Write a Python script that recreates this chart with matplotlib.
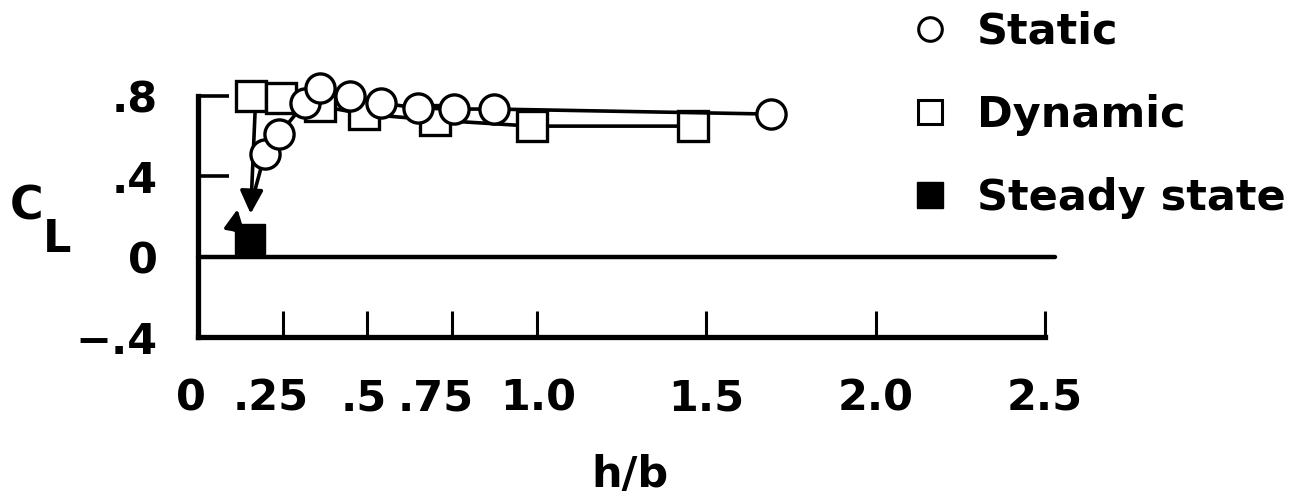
import matplotlib
matplotlib.use("Agg")
import matplotlib.pyplot as plt
import matplotlib.transforms as mtransforms
from matplotlib.lines import Line2D

plt.rcParams['font.family'] = ['DejaVu Sans']
plt.rcParams['font.weight'] = 'bold'

# data
static_hb = [0.197, 0.24, 0.315, 0.36, 0.45, 0.54, 0.65, 0.755, 0.875, 1.69]
static_cl = [0.51, 0.61, 0.765, 0.84, 0.80, 0.765, 0.74, 0.735, 0.735, 0.71]

dynamic_hb = [0.156, 0.244, 0.36, 0.49, 0.70, 0.985, 1.46]
dynamic_cl = [0.80, 0.79, 0.75, 0.71, 0.68, 0.65, 0.65]

steady_hb = [0.153]
steady_cl = [0.09]

xticks = [0, 0.25, 0.5, 0.75, 1.0, 1.5, 2.0, 2.5]
xticklabels = ['0', '.25', '.5', '.75', '1.0', '1.5', '2.0', '2.5']
yticks = [-0.4, 0, 0.4, 0.8]
yticklabels = ['\u2212.4', '0', '.4', '.8']

fig = plt.figure(figsize=(13.1, 4.99), dpi=100)
W, H = 1310, 499
ax = fig.add_axes([198 / W, 1 - 337 / H, 847 / W, 241 / H])

fs = 31
lw = 2.6

# curves
ax.plot(static_hb, static_cl, '-', color='black', lw=lw, marker='o', ms=21,
        mfc='white', mec='black', mew=2.4, zorder=4, clip_on=False, label='Static')
ax.plot(dynamic_hb, dynamic_cl, '-', color='black', lw=lw, marker='s', ms=21,
        mfc='white', mec='black', mew=2.4, zorder=3, clip_on=False, label='Dynamic')
ax.plot(steady_hb, steady_cl, 's', color='black', ms=22, zorder=5,
        clip_on=False, label='Steady state')

# arrows towards the steady state
ax.annotate('', xy=(0.155, 0.20), xytext=(0.17, 0.78),
            arrowprops=dict(arrowstyle='-|>', color='black', lw=lw,
                            mutation_scale=35), zorder=2)
ax.plot([static_hb[0], 0.163], [static_cl[0], 0.30], color='black', lw=lw, zorder=2)
ax.annotate('', xy=(0.118, 0.25), xytext=(0.105, 0.12),
            arrowprops=dict(arrowstyle='-|>', color='black', lw=lw,
                            mutation_scale=30), zorder=2)

# zero line
ax.plot([0, 2.53], [0, 0], color='black', lw=3.2, clip_on=False, zorder=1,
        solid_capstyle='round')

ax.set_xlim(0, 2.5)
ax.set_ylim(-0.4, 0.8)
for s in ['top', 'right']:
    ax.spines[s].set_visible(False)
for s in ['left', 'bottom']:
    ax.spines[s].set_linewidth(3.8)

ax.set_xticks(xticks)
ax.set_xticklabels(xticklabels, fontsize=fs, fontweight='bold')
ax.set_yticks(yticks)
ax.set_yticklabels(yticklabels, fontsize=fs, fontweight='bold')
ax.tick_params(axis='x', direction='in', length=19, width=2.2, pad=29)
ax.tick_params(axis='y', direction='in', length=22, width=2.6, pad=29)
ax.set_facecolor('none')

# labels in the original sit a little left of some ticks
shifts = [-7, -12, -4, -16, 1, 0, 0, 0]
for lab, dx in zip(ax.get_xticklabels(), shifts):
    lab.set_transform(lab.get_transform() +
                      mtransforms.ScaledTranslation(dx / 100, 0, fig.dpi_scale_trans))

fig.text(630 / W, 1 - 475 / H, 'h/b', fontsize=fs, fontweight='bold',
         ha='center', va='center')
fig.text(27 / W, 1 - 207 / H, 'C', fontsize=fs + 2, fontweight='bold',
         ha='center', va='center')
fig.text(57 / W, 1 - 240 / H, 'L', fontsize=fs + 1, fontweight='bold',
         ha='center', va='center')

handles = [
    Line2D([], [], ls='none', marker='o', ms=17, mfc='white', mec='black', mew=2.2),
    Line2D([], [], ls='none', marker='s', ms=17, mfc='white', mec='black', mew=2.2),
    Line2D([], [], ls='none', marker='s', ms=19, color='black'),
]
leg = fig.legend(handles, ['Static', 'Dynamic', 'Steady state'], loc='upper left',
                 bbox_to_anchor=(913 / W, 1 - 11 / H), frameon=False,
                 prop={'size': fs, 'weight': 'bold'}, handlelength=0.8,
                 handletextpad=0.68, labelspacing=0.95, borderpad=0,
                 borderaxespad=0)

fig.savefig('out.png', dpi=100, facecolor='white')
